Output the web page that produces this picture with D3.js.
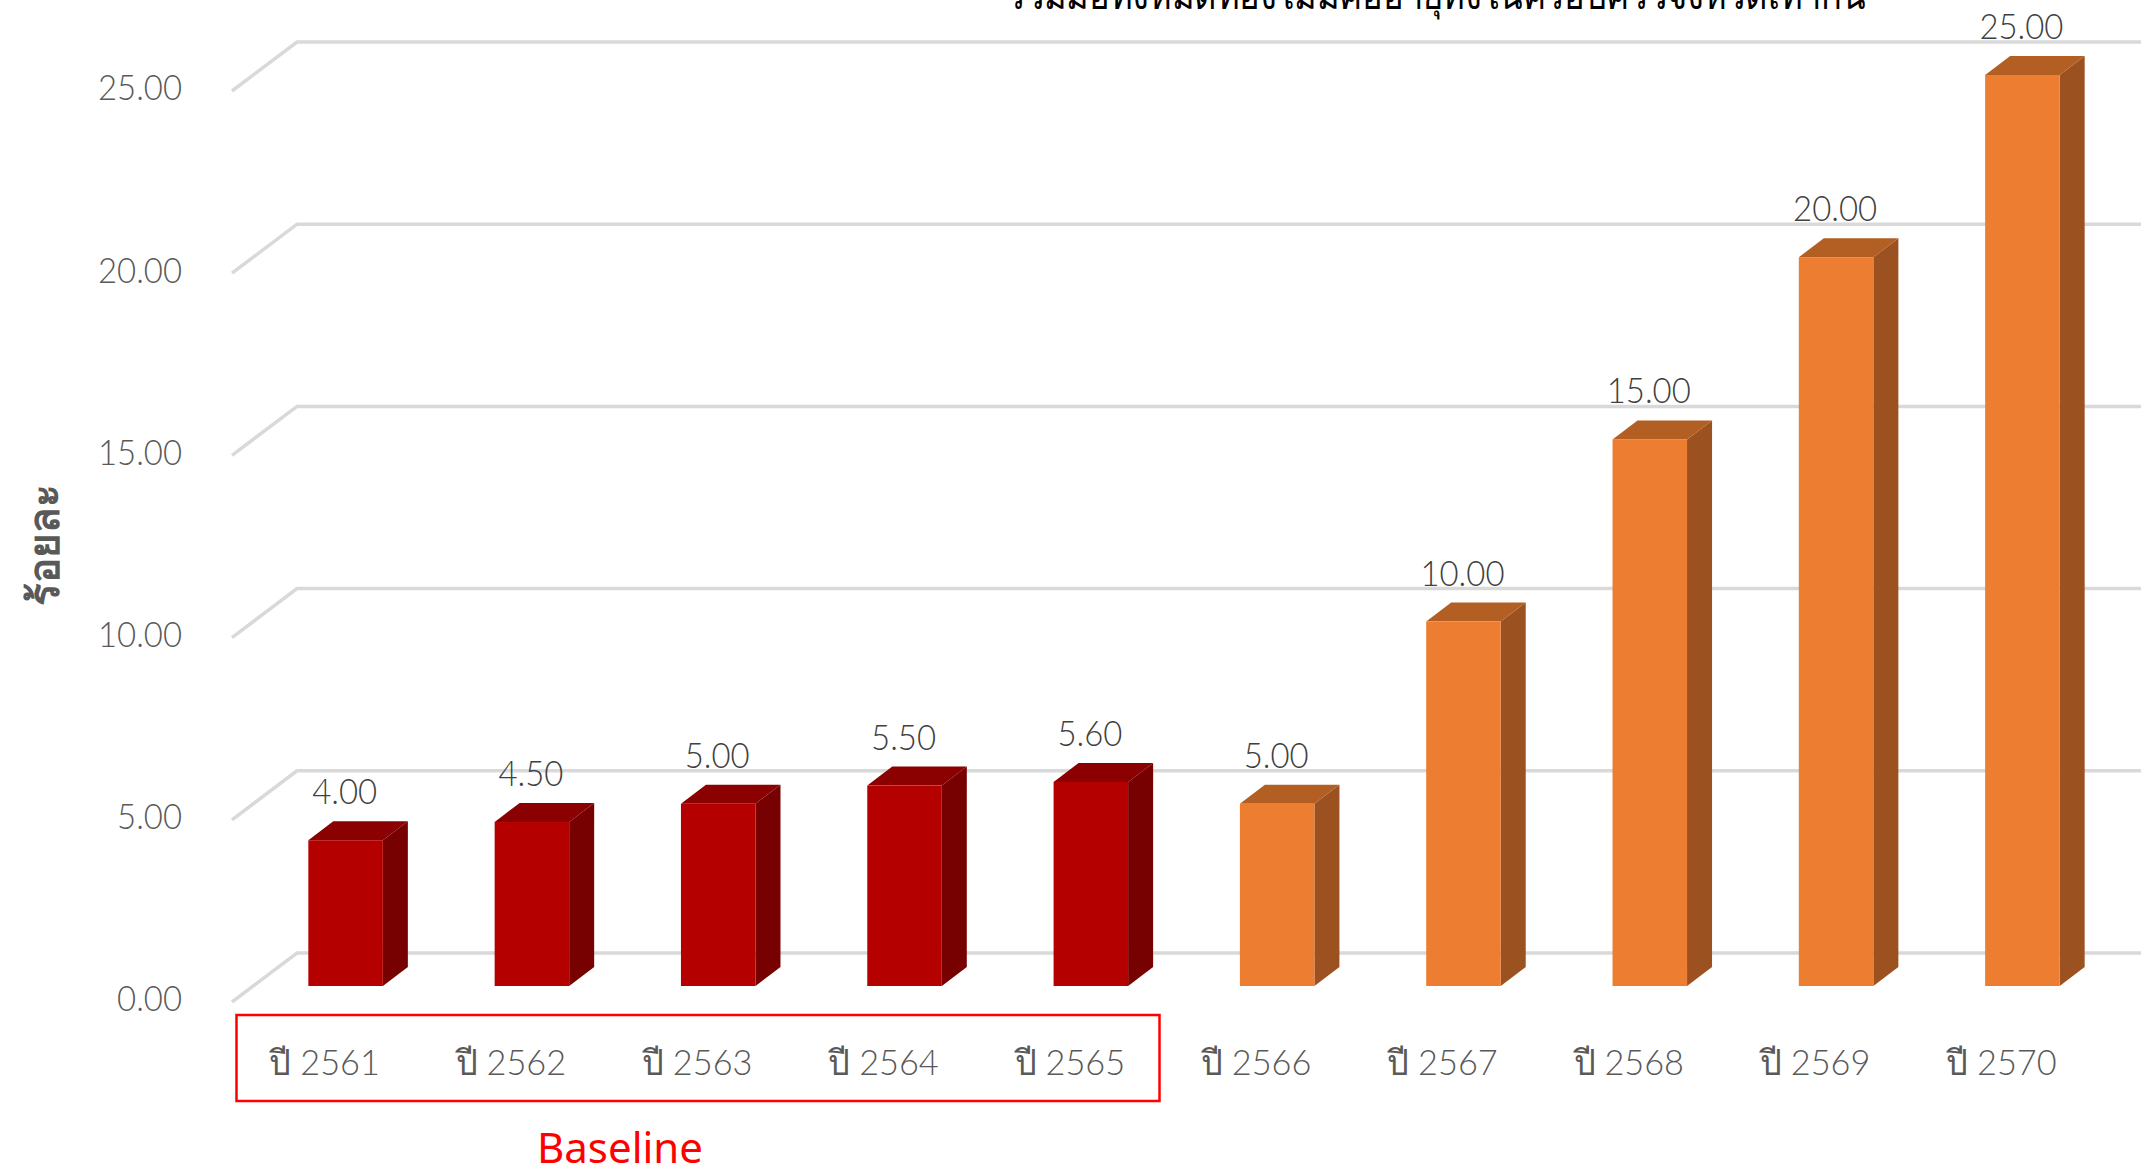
<!DOCTYPE html>
<html>
<head>
<meta charset="utf-8">
<script src="https://cdn.jsdelivr.net/npm/d3@7"></script>
<style>
html, body { margin: 0; padding: 0; background: #fff; }
svg { display: block; }
text { font-family: Lato, "Noto Sans", sans-serif; }
</style>
</head>
<body>
<div id="chart"></div>
<script>
var width = 2141, height = 1169;

var years = ["ปี 2561", "ปี 2562", "ปี 2563", "ปี 2564", "ปี 2565", "ปี 2566", "ปี 2567", "ปี 2568", "ปี 2569", "ปี 2570"];
var values = [4, 4.5, 5, 5.5, 5.6, 5, 10, 15, 20, 25];
var baselineYears = ["ปี 2561", "ปี 2562", "ปี 2563", "ปี 2564", "ปี 2565"];
var yTicks = [0, 5, 10, 15, 20, 25];
// only the lower edge of this line is visible, it runs off the top of the picture
var title = "รวมมือทั้งหมดท้องไม่มีคืออายุทั้งในครอบครัวจังหวัดเท่ากัน";

var svg = d3.select("#chart").append("svg").attr("width", width).attr("height", height);

// front plane of the bars
var y = d3.scaleLinear().domain([0, 25]).range([986, 75]);
var x = d3.scaleBand().domain(years).range([253, 2115]).paddingInner(0.6).paddingOuter(0.297);

var depthX = 25, depthY = 19;     // bar depth
var backX = 297, backY = -33;     // back wall of the grid
var tipX = 232, tipY = 16;        // front end of the floor lines

// squeeze a label horizontally, the original font is narrower than Lato
function narrow(sel, k) {
    sel.each(function () {
        d3.select(this)
            .attr("lengthAdjust", "spacingAndGlyphs")
            .attr("textLength", this.getComputedTextLength() * k);
    });
}

// gridlines, going back then right
svg.append("g").selectAll("path")
    .data(yTicks)
    .join("path")
    .attr("fill", "none")
    .attr("stroke", "#d9d9d9")
    .attr("stroke-width", 3.5)
    .attr("d", function (d) {
        return "M" + tipX + "," + (y(d) + tipY) + "L" + backX + "," + (y(d) + backY) + "L" + width + "," + (y(d) + backY);
    });

// y tick labels
svg.append("g").selectAll("text")
    .data(yTicks)
    .join("text")
    .attr("x", 182)
    .attr("y", function (d) { return y(d) + tipY; })
    .attr("dy", "0.27em")
    .attr("text-anchor", "end")
    .attr("fill", "#595959")
    .attr("font-size", 35)
    .attr("font-weight", 300)
    .text(function (d) { return d3.format(".2f")(d); })
    .call(narrow, 0.94);

// bars
function isBase(d) { return baselineYears.indexOf(d) >= 0; }
var bars = svg.append("g").selectAll("g")
    .data(years)
    .join("g");

bars.append("path") // side
    .attr("fill", function (d) { return isBase(d) ? "#770000" : "#9c5120"; })
    .attr("d", function (d, i) {
        var r = x(d) + x.bandwidth(), t = y(values[i]), b = y(0);
        return "M" + r + "," + t + "L" + (r + depthX) + "," + (t - depthY) + "L" + (r + depthX) + "," + (b - depthY) + "L" + r + "," + b + "Z";
    });
bars.append("path") // top
    .attr("fill", function (d) { return isBase(d) ? "#8b0000" : "#b35f24"; })
    .attr("d", function (d, i) {
        var l = x(d), r = l + x.bandwidth(), t = y(values[i]);
        return "M" + l + "," + t + "L" + (l + depthX) + "," + (t - depthY) + "L" + (r + depthX) + "," + (t - depthY) + "L" + r + "," + t + "Z";
    });
bars.append("rect") // front
    .attr("x", function (d) { return x(d); })
    .attr("y", function (d, i) { return y(values[i]); })
    .attr("width", x.bandwidth())
    .attr("height", function (d, i) { return y(0) - y(values[i]); })
    .attr("fill", function (d) { return isBase(d) ? "#b50000" : "#ed7d31"; });

// value labels
bars.append("text")
    .attr("x", function (d) { return x(d) + x.bandwidth() / 2 - 1; })
    .attr("y", function (d, i) { return y(values[i]) - 36; })
    .attr("text-anchor", "middle")
    .attr("fill", "#404040")
    .attr("font-size", 35)
    .attr("font-weight", 300)
    .text(function (d, i) { return d3.format(".2f")(values[i]); })
    .call(narrow, 0.94);

// category labels
svg.append("g").selectAll("text")
    .data(years)
    .join("text")
    .attr("x", function (d) { return x(d) + x.bandwidth() / 2 - 21; })
    .attr("y", 1075)
    .attr("text-anchor", "middle")
    .attr("fill", "#595959")
    .attr("font-size", 35)
    .attr("font-weight", 300)
    .text(function (d) { return d; })
    .call(narrow, 0.98);

// y axis title
svg.append("text")
    .attr("transform", "translate(59,545) rotate(-90)")
    .attr("text-anchor", "middle")
    .attr("fill", "#595959")
    .attr("font-size", 42)
    .attr("font-weight", 600)
    .text("ร้อยละ");

// chart title, cut by the top edge
svg.append("text")
    .attr("x", 1007)
    .attr("y", 9)
    .attr("fill", "#000")
    .attr("font-size", 40)
    .attr("font-weight", 300)
    .attr("textLength", 858)
    .attr("lengthAdjust", "spacingAndGlyphs")
    .text(title);

// baseline box
svg.append("rect")
    .attr("x", 236.5).attr("y", 1015)
    .attr("width", 923).attr("height", 86)
    .attr("fill", "none").attr("stroke", "#ff0000").attr("stroke-width", 2.5);
svg.append("text")
    .attr("x", 620).attr("y", 1163)
    .attr("text-anchor", "middle")
    .attr("fill", "#ff0000")
    .attr("font-size", 42)
    .style("font-family", "'Noto Sans'")
    .text("Baseline");
</script>
</body>
</html>
